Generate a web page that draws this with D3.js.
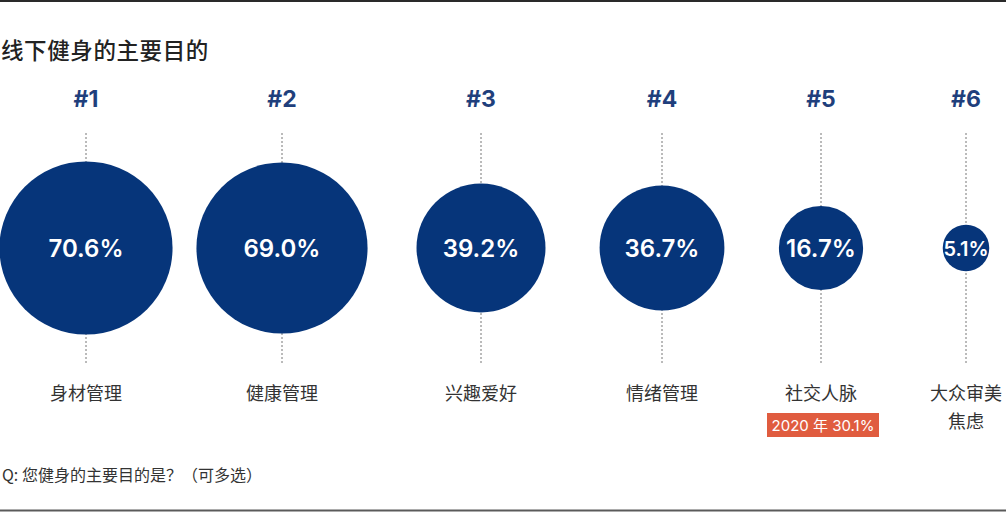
<!DOCTYPE html>
<html>
<head>
<meta charset="utf-8">
<script src="https://cdn.jsdelivr.net/npm/d3@7"></script>
<style>
  html, body { margin: 0; padding: 0; background: #fff; }
  svg { display: block; }
</style>
</head>
<body>
<svg id="chart" width="1006" height="512"></svg>
<script>
// ---- data ----
const title = "线下健身的主要目的";
const categories = ["身材管理", "健康管理", "兴趣爱好", "情绪管理", "社交人脉", "大众审美焦虑"];
const labelLines = [["身材管理"], ["健康管理"], ["兴趣爱好"], ["情绪管理"], ["社交人脉"], ["大众审美", "焦虑"]];
const ranks = ["#1", "#2", "#3", "#4", "#5", "#6"];
const values = [70.6, 69.0, 39.2, 36.7, 16.7, 5.1];
const noteCategories = ["社交人脉"];
const noteTexts = ["2020 年 30.1%"];
const footnote = "Q: 您健身的主要目的是？（可多选）";

// ---- layout / style ----
const W = 1006, H = 512;
const navy = "#06357a";
const rankColor = "#1f3f7c";
const latin = "Inter, 'Noto Sans CJK SC', sans-serif";
const cjk = "'Noto Sans CJK SC', 'Noto Sans', sans-serif";
const cy = 248;

const svg = d3.select("#chart");

const x = d3.scaleOrdinal().domain(categories).range([86, 282, 481, 662, 821, 966]);
const r = d3.scaleSqrt().domain([0, 100]).range([0, 103]);

// frame lines
svg.append("line").attr("x1", 0).attr("x2", W).attr("y1", 1).attr("y2", 1)
  .attr("stroke", "#2a2a2a").attr("stroke-width", 2);
svg.append("line").attr("x1", 0).attr("x2", W).attr("y1", 510.5).attr("y2", 510.5)
  .attr("stroke", "#5a5a5a").attr("stroke-width", 2);

// title
svg.append("text").attr("x", 1).attr("y", 49)
  .attr("dominant-baseline", "central")
  .attr("font-family", cjk).attr("font-size", 22.5).attr("font-weight", 500)
  .attr("fill", "#222").attr("letter-spacing", 0.6)
  .text(title);

const data = categories.map((c, i) => ({ c, v: values[i], rank: ranks[i], lines: labelLines[i] }));

const g = svg.append("g");

// dotted guide lines
g.selectAll("line.guide").data(data).join("line")
  .attr("class", "guide")
  .attr("x1", d => x(d.c)).attr("x2", d => x(d.c))
  .attr("y1", 133).attr("y2", 363)
  .attr("stroke", "#777").attr("stroke-width", 1)
  .attr("stroke-dasharray", "2,2");

// rank labels
g.selectAll("text.rank").data(data).join("text")
  .attr("class", "rank")
  .attr("x", d => x(d.c)).attr("y", 107)
  .attr("text-anchor", "middle")
  .attr("font-family", latin).attr("font-weight", 700).attr("font-size", 23)
  .attr("fill", rankColor)
  .text(d => d.rank);

// circles
g.selectAll("circle.bubble").data(data).join("circle")
  .attr("class", "bubble")
  .attr("cx", d => x(d.c)).attr("cy", cy)
  .attr("r", d => r(d.v))
  .attr("fill", navy);

// values
g.selectAll("text.val").data(data).join("text")
  .attr("class", "val")
  .attr("x", d => x(d.c)).attr("y", d => d.v < 10 ? cy + 7.5 : cy + 8.8)
  .attr("text-anchor", "middle")
  .attr("font-family", latin).attr("font-weight", 600)
  .attr("font-size", d => d.v < 10 ? 20 : 24)
  .attr("fill", "#fff")
  .text(d => d3.format(".1f")(d.v) + "%");

// category labels
const lbl = g.selectAll("text.cat").data(data).join("text")
  .attr("class", "cat")
  .attr("text-anchor", "middle")
  .attr("font-family", cjk).attr("font-size", 18).attr("fill", "#333");
lbl.selectAll("tspan").data(d => d.lines.map(t => ({ t, x: x(d.c) }))).join("tspan")
  .attr("x", d => d.x)
  .attr("y", (d, i) => 392 + i * 28)
  .attr("dominant-baseline", "central")
  .text(d => d.t);

// note badges
const notes = noteCategories.map((c, i) => ({ c, t: noteTexts[i] }));
const ng = g.selectAll("g.note").data(notes).join("g").attr("class", "note");
ng.append("rect")
  .attr("x", d => x(d.c) - 54).attr("y", 413)
  .attr("width", 112).attr("height", 24)
  .attr("fill", "#e05c3f");
ng.append("text")
  .attr("x", d => x(d.c) + 2).attr("y", 430.5)
  .attr("text-anchor", "middle")
  .attr("font-family", latin).attr("font-size", 15).attr("fill", "#fff")
  .text(d => d.t);

// footnote
svg.append("text").attr("x", 2).attr("y", 473.5)
  .attr("dominant-baseline", "central")
  .attr("font-family", cjk).attr("font-size", 16).attr("fill", "#333")
  .text(footnote);
</script>
</body>
</html>
